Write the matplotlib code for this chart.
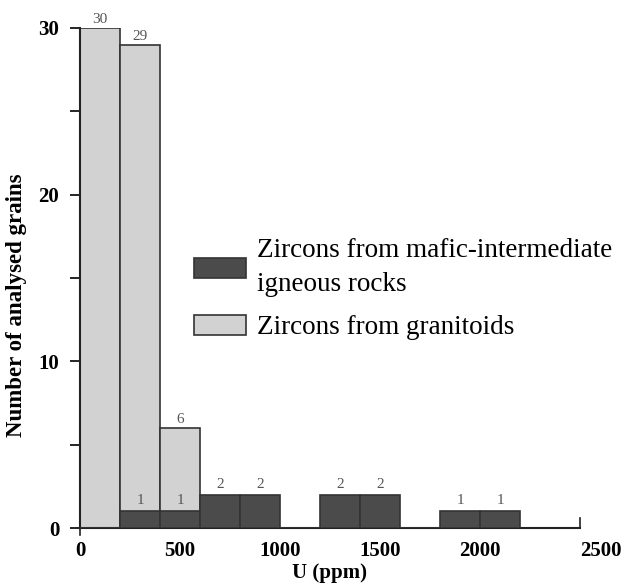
import numpy as np
import matplotlib.pyplot as plt

# histogram of U content, bins of 200 ppm
bin_left = [0, 200, 400, 600, 800, 1000, 1200, 1400, 1600, 1800, 2000]
granitoid_counts = [30, 29, 6, 0, 0, 0, 0, 0, 0, 0, 0]
mafic_counts = [0, 1, 1, 2, 2, 0, 2, 2, 0, 1, 1]
bin_width = 200

x_ticks = [0, 500, 1000, 1500, 2000, 2500]
y_ticks = [0, 10, 20, 30]

plt.rcParams['font.family'] = ['Liberation Serif', 'DejaVu Serif']

fig = plt.figure(figsize=(6.23, 5.84), dpi=100)
ax = fig.add_axes([80 / 623, 1 - 528 / 584, 500 / 623, 500 / 584])

light = '#d2d2d2'
dark = '#4b4b4b'
edge = '#333333'

g_bars = ax.bar(bin_left, granitoid_counts, width=bin_width, align='edge',
                color=light, edgecolor=edge, linewidth=1.2, zorder=2,
                label='Zircons from granitoids')
m_bars = ax.bar(bin_left, mafic_counts, width=bin_width, align='edge',
                color=dark, edgecolor=edge, linewidth=1.2, zorder=3,
                label='Zircons from mafic-intermediate\nigneous rocks')

# count labels above the bars
for x, c in zip(bin_left, granitoid_counts):
    if c > 0:
        ax.text(x + bin_width / 2, c + 0.12, str(c), ha='center', va='bottom',
                fontsize=11, color='#555555', zorder=4)
for x, c in zip(bin_left, mafic_counts):
    if c > 0:
        ax.text(x + bin_width / 2, c + 0.25, str(c), ha='center', va='bottom',
                fontsize=11, color='#555555', zorder=4)

ax.set_xlim(0, 2500)
ax.set_ylim(0, 30)
ax.set_xticks(x_ticks)
ax.set_yticks(y_ticks)
ax.set_yticks([5, 15, 25], minor=True)
ax.tick_params(axis='y', which='both', direction='out', length=7, width=1.2,
               labelsize=15, pad=8)
ax.tick_params(axis='x', length=0, labelsize=15, pad=9)
for lab in ax.get_xticklabels() + ax.get_yticklabels():
    lab.set_fontweight('bold')
# the last x label sits to the right of its tick in the original
ax.get_xticklabels()[-1].set_horizontalalignment('left')

for s in ['top', 'right']:
    ax.spines[s].set_visible(False)
for s in ['left', 'bottom']:
    ax.spines[s].set_linewidth(1.5)
    ax.spines[s].set_color('#222222')

# small end ticks on the x axis
ax.plot([0, 0], [-0.4, 0], color='#222222', lw=1.2, clip_on=False)
ax.plot([2500, 2500], [0, 0.6], color='#222222', lw=1.2, clip_on=False)

ax.set_xlabel('U (ppm)', fontsize=15, fontweight='bold', labelpad=2)
ax.set_ylabel('Number of analysed grains', fontsize=16.5, fontweight='bold')
ax.yaxis.set_label_coords(-0.106, 0.446)

leg = ax.legend(handles=[m_bars, g_bars], loc='upper left',
                bbox_to_anchor=(170 / 623, 1 - 214 / 584), bbox_transform=fig.transFigure,
                frameon=False, fontsize=19.5, handlelength=1.9, handleheight=0.78,
                handletextpad=0.4, labelspacing=0.65)
for t in leg.get_texts():
    t.set_linespacing(1.45)

fig.savefig('out.png', dpi=100)
